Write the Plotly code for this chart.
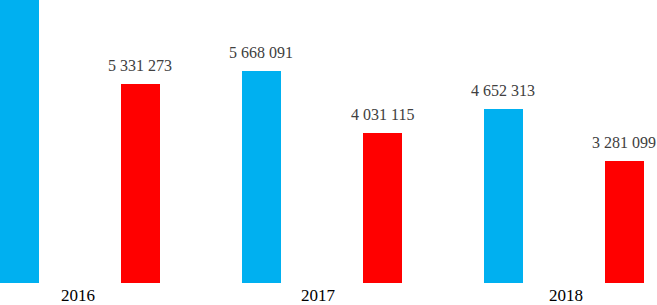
import plotly.graph_objects as go

bar_positions = [0, 1, 2, 3, 4, 5]
bar_values = [7900000, 5331273, 5668091, 4031115, 4652313, 3281099]
bar_labels = ["", "5 331 273", "5 668 091", "4 031 115", "4 652 313", "3 281 099"]
bar_colors = ["#00B0F0", "#FF0000", "#00B0F0", "#FF0000", "#00B0F0", "#FF0000"]
year_positions = [0.483, 2.467, 4.517]
year_labels = ["2016", "2017", "2018"]

fig = go.Figure()
fig.add_trace(go.Bar(
    x=bar_positions, y=bar_values, width=0.315,
    marker=dict(color=bar_colors, line=dict(width=0)),
    hoverinfo="skip", showlegend=False,
))

for x, v, t in zip(bar_positions, bar_values, bar_labels):
    if t:
        fig.add_annotation(x=x, y=v, text=t, showarrow=False, xref="x", yref="y",
                           yanchor="bottom", yshift=8,
                           font=dict(family="Liberation Serif", size=16, color="#404040"))

fig.update_layout(
    width=657, height=305,
    margin=dict(l=0, r=0, t=0, b=22),
    paper_bgcolor="white", plot_bgcolor="white",
    bargap=0,
    xaxis=dict(range=[-0.161, 5.269], tickmode="array", tickvals=year_positions,
               ticktext=year_labels, showgrid=False, zeroline=False, showline=False,
               ticks="", tickfont=dict(family="Liberation Serif", size=17, color="#000000")),
    yaxis=dict(range=[0, 7580000], visible=False, showgrid=False, zeroline=False),
)

fig.write_html("out.html", config={"displayModeBar": False, "staticPlot": True},
               post_script="document.body.style.margin='0';document.body.style.overflow='hidden';")
